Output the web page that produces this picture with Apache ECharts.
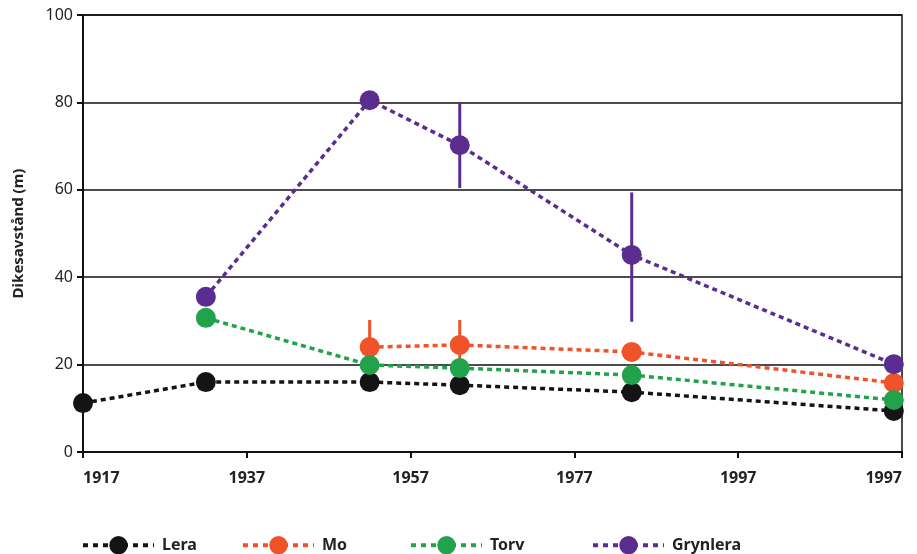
<!DOCTYPE html>
<html>
<head>
<meta charset="utf-8">
<script src="https://cdn.jsdelivr.net/npm/echarts@6/dist/echarts.min.js"></script>
<style>html,body{margin:0;padding:0;background:#fff;}#c{width:917px;height:554px;}</style>
</head>
<body>
<div id="c"></div>
<script>
// Data
const xTickLabels = ["1917", "1937", "1957", "1977", "1997", "1997"];
const leraYears = [1917, 1932, 1952, 1963, 1984, 2016];
const leraVals = [11.2, 16.0, 16.0, 15.3, 13.7, 9.4];
const moYears = [1952, 1963, 1984, 2016];
const moVals = [24.0, 24.5, 22.9, 15.8];
const torvYears = [1932, 1952, 1963, 1984, 2016];
const torvVals = [30.7, 19.9, 19.2, 17.6, 11.9];
const grynYears = [1932, 1952, 1963, 1984, 2016];
const grynVals = [35.5, 80.5, 70.2, 45.1, 20.1];
// Error bars: low / high per year
const moErrYears = [1952, 1963];
const moErrLow = [18.0, 18.5];
const moErrHigh = [30.2, 30.2];
const grynErrYears = [1963, 1984];
const grynErrLow = [60.4, 29.8];
const grynErrHigh = [80.0, 59.4];

const colors = {Lera: '#141414', Mo: '#f0522a', Torv: '#21a24b', Grynlera: '#5b2d90'};

function pairs(xs, ys) { return xs.map((x, i) => [x, ys[i]]); }

function lineSeries(name, xs, ys) {
  return {
    name: name, type: 'line', data: pairs(xs, ys),
    symbol: 'circle', symbolSize: 20,
    itemStyle: {color: colors[name]},
    lineStyle: {color: colors[name], width: 3.5, type: [5, 4]},
    z: 3
  };
}

function errSeries(name, xs, lo, hi) {
  return {
    type: 'custom', z: 1, silent: true,
    data: xs.map((x, i) => [x, lo[i], hi[i]]),
    renderItem: function (params, api) {
      const p1 = api.coord([api.value(0), api.value(1)]);
      const p2 = api.coord([api.value(0), api.value(2)]);
      return {
        type: 'line',
        shape: {x1: p1[0], y1: p1[1], x2: p2[0], y2: p2[1]},
        style: {stroke: colors[name], lineWidth: 3}
      };
    }
  };
}

function legendAt(name, left) {
  return {
    data: [name], left: left, top: 531, itemWidth: 71, itemHeight: 23, itemGap: 0,
    lineStyle: {width: 4, type: [5, 5]},
    textStyle: {fontFamily: 'Noto Sans', fontWeight: 'bold', fontSize: 16, color: '#222', padding: [0, 0, 0, 3]}
  };
}

const chart = echarts.init(document.getElementById('c'));
chart.setOption({
  animation: false,
  backgroundColor: '#fff',
  grid: {left: 83, right: 15, top: 15, bottom: 102, show: true, borderColor: '#111', borderWidth: 1.5},
  legend: [legendAt('Lera', 76), legendAt('Mo', 236), legendAt('Torv', 404), legendAt('Grynlera', 586)],
  xAxis: {
    type: 'value', min: 1917, max: 2017, interval: 20,
    axisLine: {lineStyle: {color: '#111', width: 2}},
    axisTick: {show: true, length: 6, lineStyle: {color: '#111', width: 2}},
    splitLine: {show: false},
    axisLabel: {
      margin: 18, fontFamily: 'Noto Sans', fontWeight: 'bold', fontSize: 16, color: '#222',
      alignMinLabel: 'left', alignMaxLabel: 'right',
      formatter: function (v) { return xTickLabels[Math.round((v - 1917) / 20)]; }
    }
  },
  yAxis: {
    type: 'value', min: 0, max: 100, interval: 20,
    name: 'Dikesavstånd (m)', nameLocation: 'middle', nameGap: 57, nameRotate: 90,
    nameTextStyle: {fontFamily: 'Noto Sans', fontWeight: 'bold', fontSize: 15, color: '#222'},
    axisLine: {show: true, lineStyle: {color: '#111', width: 2}},
    axisTick: {show: true, length: 6, lineStyle: {color: '#111', width: 2}},
    splitLine: {show: true, lineStyle: {color: '#111', width: 1.5}},
    axisLabel: {margin: 10, fontFamily: 'Noto Sans', fontSize: 16, color: '#222'}
  },
  series: [
    errSeries('Mo', moErrYears, moErrLow, moErrHigh),
    errSeries('Grynlera', grynErrYears, grynErrLow, grynErrHigh),
    lineSeries('Lera', leraYears, leraVals),
    lineSeries('Mo', moYears, moVals),
    lineSeries('Torv', torvYears, torvVals),
    lineSeries('Grynlera', grynYears, grynVals)
  ]
});
</script>
</body>
</html>
